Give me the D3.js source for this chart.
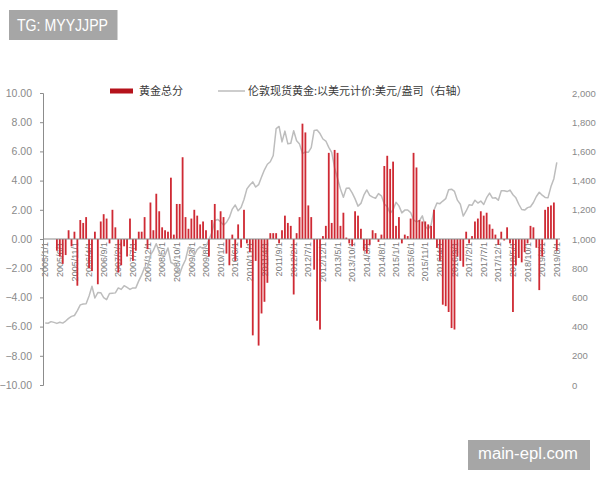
<!DOCTYPE html>
<html><head><meta charset="utf-8">
<script src="https://cdn.jsdelivr.net/npm/d3@7"></script>
<style>
html,body{margin:0;padding:0;background:#fff;}
svg{display:block;}
</style></head>
<body>
<div id="chart"></div>
<script>
// ---- data ----
const startYear = 2005, startMonth = 1, monthCount = 176; // 2005/1 .. 2019/8
const categories = [];
for (let k = 0; k < monthCount; k++) {
  const yy = startYear + Math.floor((startMonth - 1 + k) / 12);
  const mm = (startMonth - 1 + k) % 12 + 1;
  categories.push(yy + "/" + mm + "/1");
}
const goldScore = [
  0, 0, 0, 0, -0.8, -1.2, -1.7, -1.1, 0.6, -0.5, 0.5, -3.2,
  1.3, 1.1, 1.5, -2.0, -2.2, 0.5, -3.1, 1.2, 1.7, 1.4, -0.3, 2.0,
  0.8, -2.3, -1.8, -0.5, -1.2, 1.4, -1.5, -0.8, 0.5, 0.5, 1.5, -0.7,
  2.5, 0.6, 3.1, 1.9, 0.8, 0.6, 0.5, 4.2, 0.3, 2.4, 2.4, 5.6,
  1.5, 0.7, 1.4, 2.0, 1.6, 1.0, 1.2, 0.6, -1.2, 1.3, 2.4, 0.6,
  1.9, 1.5, -1.0, -1.8, 0.3, -1.5, 1.0, -0.6, 2.0, -0.3, -0.9, -6.6,
  -1.5, -7.3, -5.1, -4.3, -3.0, 0.4, 0.4, 0.4, -0.3, 0.6, 1.6, 1.1,
  0.9, -3.8, 0.4, 1.5, 7.9, 7.3, 2.3, 1.5, -2.1, -5.6, -6.2, 0.2,
  0.9, 5.9, 1.1, 6.1, 5.9, 0.9, 1.8, 0.1, -0.3, -0.5, 1.9, 1.6,
  0.7, -0.8, -1.0, -0.4, 0.6, 0.4, -0.2, 0.3, 5.0, 5.7, 4.8, 5.3,
  0.9, 1.5, -0.3, 0.3, 0.2, 1.4, 5.9, 4.9, 1.3, 1.2, 1.2, 1.0,
  0.9, 2.0, -0.6, -1.5, -4.5, -4.6, -5.0, -6.1, -6.2, -1.2, -1.5, -1.9,
  0.5, -0.3, 0.2, 1.2, 1.4, 1.9, 1.6, 1.8, 1.0, 0.7, 0.3, -0.4,
  0.5, -0.1, 0.8, -0.3, -5.0, -1.8, -1.3, -1.6, -0.9, -0.3, 0.9, 0.8,
  -0.6, -3.5, -1.2, 2.0, 2.2, 2.3, 2.5, -0.8
];
const goldPrice = [
  424, 423, 434, 429, 422, 430, 424, 438, 456, 470, 476, 510,
  549, 555, 557, 610, 676, 596, 633, 632, 598, 585, 627, 629,
  631, 665, 655, 680, 668, 655, 665, 665, 713, 754, 806, 803,
  889, 922, 968, 909, 888, 890, 939, 839, 829, 806, 760, 816,
  858, 943, 925, 890, 928, 946, 934, 949, 996, 1043, 1127, 1134,
  1118, 1095, 1113, 1148, 1205, 1233, 1193, 1215, 1271, 1343, 1370, 1391,
  1356, 1372, 1424, 1474, 1512, 1529, 1572, 1756, 1771, 1665, 1739, 1652,
  1656, 1742, 1673, 1650, 1585, 1596, 1594, 1626, 1744, 1747, 1722, 1685,
  1671, 1628, 1593, 1487, 1414, 1343, 1286, 1347, 1349, 1316, 1275, 1225,
  1244, 1300, 1336, 1299, 1287, 1279, 1311, 1296, 1239, 1222, 1176, 1200,
  1251, 1227, 1179, 1198, 1199, 1181, 1131, 1117, 1125, 1159, 1086, 1068,
  1097, 1199, 1246, 1242, 1260, 1276, 1337, 1341, 1326, 1266, 1238, 1157,
  1192, 1234, 1231, 1266, 1246, 1260, 1236, 1283, 1314, 1280, 1283, 1265,
  1331, 1331, 1325, 1335, 1303, 1282, 1238, 1202, 1198, 1215, 1221, 1250,
  1291, 1320, 1300, 1285, 1283, 1359, 1413, 1525
];
const leftTicks = [-10, -8, -6, -4, -2, 0, 2, 4, 6, 8, 10];
const rightTicks = [0, 200, 400, 600, 800, 1000, 1200, 1400, 1600, 1800, 2000];
const xTickLabels = categories.filter((d, i) => i % 5 === 0);
const legendLabels = ["黄金总分", "伦敦现货黄金:以美元计价:美元/盎司（右轴）"];

// ---- drawing ----
const W = 600, H = 480;
const svg = d3.select("#chart").append("svg").attr("width", W).attr("height", H);
svg.append("rect").attr("width", W).attr("height", H).attr("fill", "#fff");

const plotTop = 93, plotBottom = 385, plotLeft = 43, plotRight = 558;
const x = d3.scaleBand().domain(categories).range([plotLeft + 1, plotRight]).paddingInner(0.38).paddingOuter(0.1);
const yL = d3.scaleLinear().domain([-10, 10]).range([plotBottom, plotTop]);
const yR = d3.scaleLinear().domain([0, 2000]).range([plotBottom, plotTop]);

const numFont = "'Liberation Sans', Arial, sans-serif";
const cjkFont = "'Noto Sans CJK SC', sans-serif";

// x axis labels (drawn below bars)
const xAxis = d3.axisBottom(x).tickValues(xTickLabels).tickSize(0).tickPadding(0);
const gx = svg.append("g").attr("transform", `translate(0,${yL(0)})`).call(xAxis);
gx.select(".domain").remove();
gx.selectAll("text")
  .attr("transform", "rotate(-90)")
  .attr("x", -3).attr("y", 0).attr("dy", "0.35em")
  .style("text-anchor", "end")
  .attr("fill", "#7a7a7a")
  .style("font-family", numFont).style("font-size", "9px");

// left axis
const gl = svg.append("g").attr("transform", `translate(${plotLeft},0)`)
  .call(d3.axisLeft(yL).tickValues(leftTicks).tickFormat(d3.format(".2f")).tickSizeOuter(0).tickSize(3).tickPadding(8));
gl.select(".domain").attr("stroke", "#8c8c8c");
gl.selectAll(".tick line").attr("stroke", "#8c8c8c");
gl.selectAll("text").attr("fill", "#8a8a8a").style("font-family", numFont).style("font-size", "10.5px");

// right axis (labels only)
const gr = svg.append("g").attr("transform", `translate(${572},0)`)
  .call(d3.axisRight(yR).tickValues(rightTicks).tickFormat(d3.format(",")).tickSize(0).tickPadding(0));
gr.select(".domain").remove();
gr.selectAll("text").attr("fill", "#8a8a8a").style("font-family", numFont).style("font-size", "9.5px");

// line
const line = d3.line()
  .x((d, i) => x(categories[i]) + x.bandwidth() / 2)
  .y(d => yR(d));
svg.append("path").datum(goldPrice)
  .attr("d", line).attr("fill", "none")
  .attr("stroke", "#bdbdbd").attr("stroke-width", 1.5).attr("stroke-linejoin", "round");

// bars
svg.append("g").selectAll("rect").data(goldScore).join("rect")
  .attr("x", (d, i) => x(categories[i]))
  .attr("width", x.bandwidth())
  .attr("y", d => yL(Math.max(0, d)))
  .attr("height", d => Math.abs(yL(d) - yL(0)))
  .attr("fill", "#cf2a34");

// zero axis line
svg.append("line").attr("x1", plotLeft).attr("x2", plotRight + 2)
  .attr("y1", yL(0)).attr("y2", yL(0)).attr("stroke", "#8c8c8c").attr("stroke-width", 1);

// legend
const lg = svg.append("g");
lg.append("rect").attr("x", 110).attr("y", 88.5).attr("width", 23).attr("height", 5).attr("fill", "#b5121b");
lg.append("text").attr("x", 139).attr("y", 91).attr("dy", "0.35em").text(legendLabels[0])
  .attr("fill", "#3a3a3a").style("font-family", cjkFont).style("font-size", "11px");
lg.append("line").attr("x1", 218).attr("x2", 245).attr("y1", 91).attr("y2", 91).attr("stroke", "#bdbdbd").attr("stroke-width", 1.5);
lg.append("text").attr("x", 248).attr("y", 91).attr("dy", "0.35em").text(legendLabels[1])
  .attr("fill", "#3a3a3a").style("font-family", cjkFont).style("font-size", "11px");

// watermarks
svg.append("rect").attr("x", 9).attr("y", 10).attr("width", 108.5).attr("height", 30).attr("fill", "#a6a6a6");
svg.append("text").attr("x", 17).attr("y", 31).text("TG: MYYJJPP").attr("fill", "#fff")
  .style("font-family", numFont).style("font-size", "16px").attr("textLength", 91).attr("lengthAdjust", "spacingAndGlyphs");
svg.append("rect").attr("x", 468).attr("y", 440).attr("width", 122).attr("height", 30).attr("fill", "#a6a6a6");
svg.append("text").attr("x", 478).attr("y", 459).text("main-epl.com").attr("fill", "#fff")
  .style("font-family", numFont).style("font-size", "16px").attr("textLength", 100).attr("lengthAdjust", "spacingAndGlyphs");
</script>
</body></html>
